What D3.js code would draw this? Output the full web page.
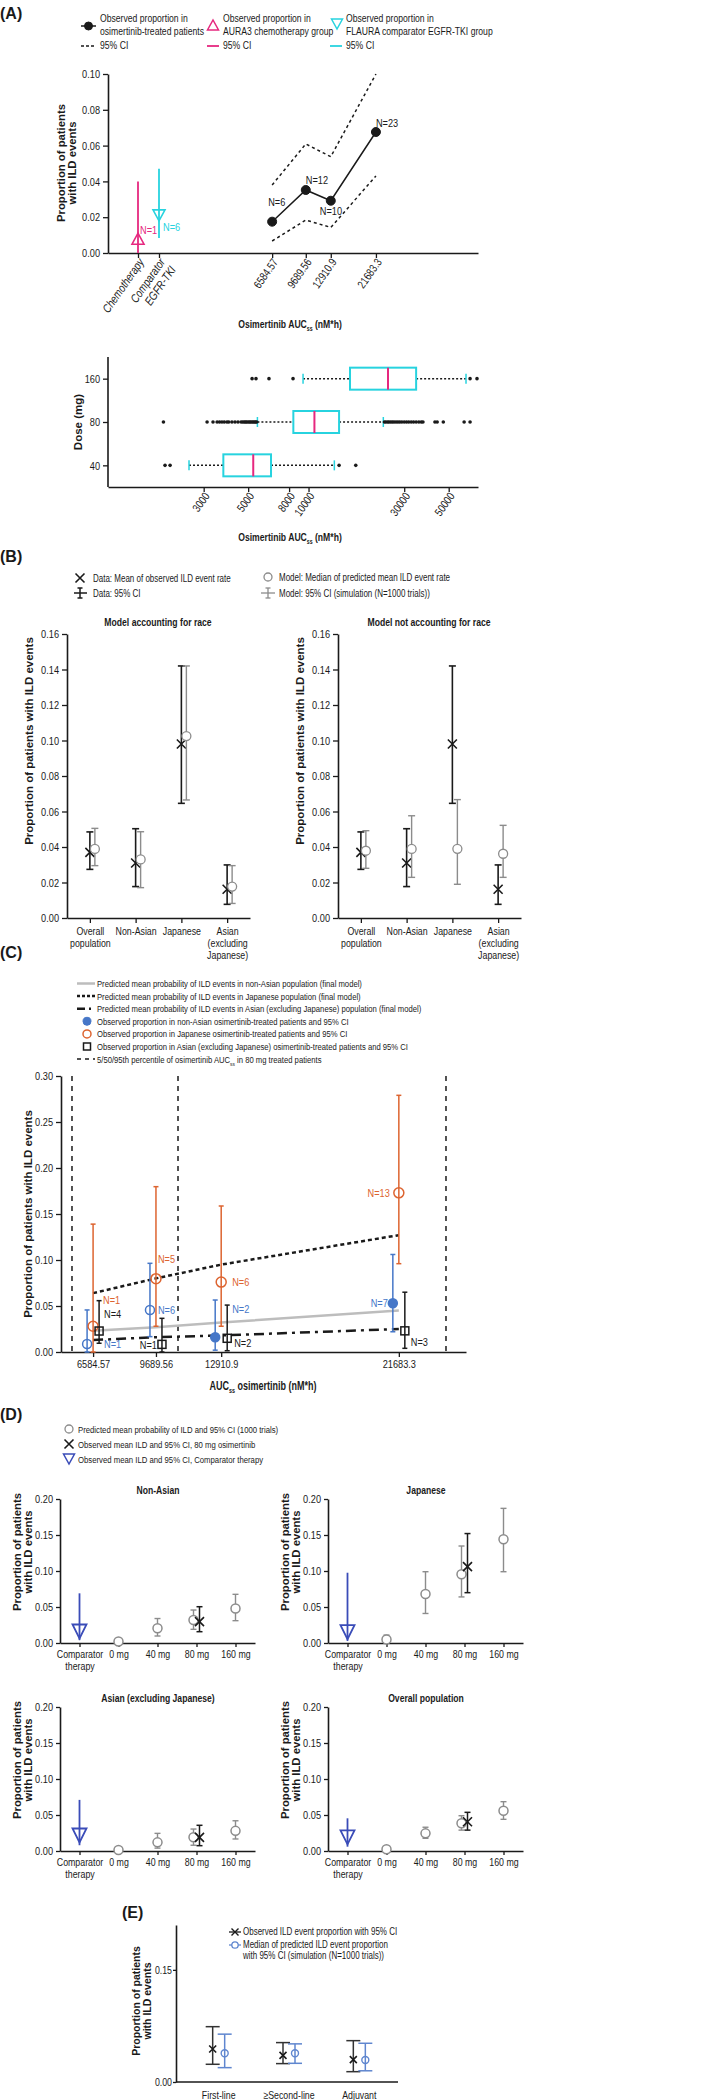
<!DOCTYPE html>
<html><head><meta charset="utf-8">
<script src="https://cdn.jsdelivr.net/npm/d3@7"></script>
<style>body{margin:0;background:#fff}</style>
</head><body><script>
// ---------------- DATA ----------------
// Panel A (top)
const aAuc = [6584.57, 9689.56, 12910.9, 21683.3];
const aObs = [0.0175, 0.0352, 0.0292, 0.0676];
const aLo  = [0.0067, 0.0184, 0.0143, 0.043];
const aHi  = [0.038, 0.0609, 0.0538, 0.100];
const aN   = ["N=6", "N=12", "N=10", "N=23"];
const aCompCats = ["Chemotherapy", "Comparator EGFR-TKI"];
const aCompVal = [0.008, 0.021];
const aCompLo  = [0.0, 0.0084];
const aCompHi  = [0.040, 0.047];
const aCompN   = ["N=1", "N=6"];
const aYTicks  = [0, 0.02, 0.04, 0.06, 0.08, 0.10];
// Panel A (box plot)
const boxDose = ["160", "80", "40"];
const boxQ1  = [16100, 8400, 3760];
const boxMed = [24900, 10700, 5300];
const boxQ3  = [34400, 14200, 6500];
const boxWLo = [9390, 5560, 2535];
const boxWHi = [61000, 23600, 13450];
const boxOut160 = [5230, 5470, 6350, 8370, 63900, 69200];
const boxOut80 = [1890, 3120, 3340, 3500, 3600, 3700, 3800, 3920, 4000, 4150, 4300, 4450, 4610, 4700, 4780, 4850, 4920, 5000, 5080, 5150, 5230, 5300, 5380, 5450, 5520,
  23900, 24300, 24800, 25200, 25700, 26200, 26700, 27300, 27900, 28500, 29200, 30000, 30800, 31600, 32500, 33400, 34400, 35500, 36500, 37200, 42700, 43800, 47000, 59700, 63900];
const boxOut40 = [1925, 2040, 14200, 17200];
const boxXTicks = [3000, 5000, 8000, 10000, 30000, 50000];
// Panel B
const bCats = ["Overall population", "Non-Asian", "Japanese", "Asian (excluding Japanese)"];
const bCatLines = [["Overall", "population"], ["Non-Asian"], ["Japanese"], ["Asian", "(excluding", "Japanese)"]];
const bObs   = [0.037, 0.031, 0.098, 0.0162];
const bObsLo = [0.0274, 0.0177, 0.0646, 0.0077];
const bObsHi = [0.0485, 0.0503, 0.142, 0.0299];
const bRace   = [0.0389, 0.033, 0.1025, 0.0177];
const bRaceLo = [0.0295, 0.0171, 0.0665, 0.0082];
const bRaceHi = [0.0505, 0.0486, 0.142, 0.0295];
const bNoRace   = [0.0379, 0.0389, 0.039, 0.0362];
const bNoRaceLo = [0.028, 0.0229, 0.019, 0.0229];
const bNoRaceHi = [0.0492, 0.0576, 0.0667, 0.0522];
const bYTicks = [0, 0.02, 0.04, 0.06, 0.08, 0.10, 0.12, 0.14, 0.16];
// Panel C
const cAuc = [6584.57, 9689.56, 12910.9, 21683.3];
const cPctl = [5543, 10778, 24012];
const cPredNonAsian = [0.023, 0.027, 0.032, 0.045];
const cPredJapanese = [0.064, 0.080, 0.095, 0.127];
const cPredAsian    = [0.013, 0.016, 0.018, 0.025];
const cNonAsian   = [0.0087, 0.0457, 0.016, 0.053];
const cNonAsianLo = [0.0, 0.0167, 0.002, 0.022];
const cNonAsianHi = [0.0457, 0.0964, 0.0565, 0.106];
const cNonAsianN  = ["N=1", "N=6", "N=2", "N=7"];
const cJap   = [0.028, 0.0797, 0.076, 0.173];
const cJapLo = [0.0, 0.028, 0.028, 0.096];
const cJapHi = [0.139, 0.1797, 0.1587, 0.279];
const cJapN  = ["N=1", "N=5", "N=6", "N=13"];
const cAsian   = [0.0228, 0.0083, 0.0149, 0.023];
const cAsianLo = [0.0095, 0.0, 0.0014, 0.004];
const cAsianHi = [0.0558, 0.0366, 0.051, 0.065];
const cAsianN  = ["N=4", "N=1", "N=2", "N=3"];
const cYTicks = [0, 0.05, 0.10, 0.15, 0.20, 0.25, 0.30];
// Panel D
const dCats = ["Comparator therapy", "0 mg", "40 mg", "80 mg", "160 mg"];
const dPanels = ["Non-Asian", "Japanese", "Asian (excluding Japanese)", "Overall population"];
const dPredDoses = ["0 mg", "40 mg", "80 mg", "160 mg"];
const dPred   = [[0.002, 0.0204, 0.032, 0.048], [0.005, 0.068, 0.0954, 0.144], [0.0014, 0.012, 0.019, 0.028], [0.0024, 0.0245, 0.0385, 0.056]];
const dPredLo = [[0.0, 0.0097, 0.019, 0.031], [0.0, 0.041, 0.064, 0.099], [0.0, 0.004, 0.008, 0.0167], [0.0, 0.0176, 0.029, 0.044]];
const dPredHi = [[0.004, 0.034, 0.0458, 0.0676], [0.011, 0.099, 0.1347, 0.187], [0.003, 0.0245, 0.0305, 0.042], [0.005, 0.033, 0.049, 0.0685]];
const dObs80   = [0.0296, 0.106, 0.019, 0.0407];
const dObs80Lo = [0.0157, 0.0699, 0.0074, 0.029];
const dObs80Hi = [0.0504, 0.152, 0.0357, 0.0537];
const dComp   = [0.016, 0.015, 0.0215, 0.019];
const dCompLo = [0.004, 0.003, 0.008, 0.006];
const dCompHi = [0.069, 0.0976, 0.071, 0.0454];
const dYTicks = [0, 0.05, 0.10, 0.15, 0.20];
// Panel E
const eCats = ["First-line", "\u2265Second-line", "Adjuvant"];
const eObs   = [0.0442, 0.0357, 0.030];
const eObsLo = [0.0237, 0.0246, 0.0138];
const eObsHi = [0.074, 0.0527, 0.0553];
const ePred   = [0.0384, 0.0384, 0.0295];
const ePredLo = [0.0192, 0.025, 0.015];
const ePredHi = [0.064, 0.051, 0.0518];
const eYTicks = [0, 0.15];

// ---------------- HELPERS ----------------
const NF = "'Liberation Sans Narrow','Arial Narrow','Liberation Sans',Arial,sans-serif";
const WF = "'Liberation Sans',Arial,sans-serif";
const INK = "#1a1a1a";
const PINK = "#e6287f", CYAN = "#27d3df", BLUE = "#4677c8", ORANGE = "#dd6430", GRAY = "#8c8c8c", DBLUE = "#3a4cb8", EBLUE = "#5f86cf";
const TICK = 11.5, TITLE = 11.5, ROT = -55;

const svg = d3.select("body").append("svg").attr("width", 709).attr("height", 2100).style("background", "#fff");

function txt(g, x, y, s, o = {}) {
  const t = g.append("text").attr("x", x).attr("y", y).text(s)
    .attr("font-size", o.size || 11).attr("font-family", o.family || NF)
    .attr("fill", o.color || INK).attr("text-anchor", o.anchor || "start");
  if (o.bold) t.attr("font-weight", "bold");
  if (o.rotate != null) t.attr("transform", `rotate(${o.rotate},${x},${y})`);
  return t;
}
function ln(g, x1, y1, x2, y2, color, w, dash) {
  const l = g.append("line").attr("x1", x1).attr("y1", y1).attr("x2", x2).attr("y2", y2)
    .attr("stroke", color).attr("stroke-width", w);
  if (dash) l.attr("stroke-dasharray", dash);
  return l;
}
function ebar(g, x, ya, yb, hw, color, w) {
  ln(g, x, ya, x, yb, color, w);
  if (hw > 0) { ln(g, x - hw, ya, x + hw, ya, color, w); ln(g, x - hw, yb, x + hw, yb, color, w); }
}
function xmark(g, x, y, s, color, w) {
  g.append("path").attr("d", `M${x - s},${y - s}L${x + s},${y + s}M${x - s},${y + s}L${x + s},${y - s}`)
    .attr("stroke", color).attr("stroke-width", w).attr("fill", "none");
}
function circ(g, x, y, r, stroke, fill, w) {
  return g.append("circle").attr("cx", x).attr("cy", y).attr("r", r).attr("stroke", stroke).attr("fill", fill).attr("stroke-width", w);
}
function triUp(g, x, y, hw, h, color, w) {
  g.append("path").attr("d", `M${x - hw},${y + h / 2}L${x + hw},${y + h / 2}L${x},${y - h / 2}Z`).attr("fill", "none").attr("stroke", color).attr("stroke-width", w);
}
function triDown(g, x, y, hw, h, color, w) {
  g.append("path").attr("d", `M${x - hw},${y - h / 2}L${x + hw},${y - h / 2}L${x},${y + h / 2}Z`).attr("fill", "none").attr("stroke", color).attr("stroke-width", w);
}
function square(g, x, y, s, color, w) {
  g.append("rect").attr("x", x - s / 2).attr("y", y - s / 2).attr("width", s).attr("height", s).attr("fill", "none").attr("stroke", color).attr("stroke-width", w);
}
function styleAxis(sel, fs) {
  sel.selectAll("text").attr("font-family", NF).attr("font-size", fs).attr("fill", INK);
  sel.select(".domain").attr("stroke", INK).attr("stroke-width", 1.6);
  sel.selectAll(".tick line").attr("stroke", INK).attr("stroke-width", 1.3);
}
function yTitle(g, x, yc, lines, size, lh) {
  lines.forEach((s, i) => txt(g, x + i * lh, yc, s, { size: size, bold: true, family: WF, anchor: "middle", rotate: -90 }));
}
function subTitle(g, x, y, pre, sub, post, size, anchor) {
  const t = g.append("text").attr("x", x).attr("y", y).attr("font-family", NF).attr("font-size", size)
    .attr("font-weight", "bold").attr("fill", INK).attr("text-anchor", anchor || "middle");
  t.append("tspan").text(pre);
  t.append("tspan").text(sub).attr("font-size", size * 0.6).attr("dy", 3);
  t.append("tspan").text(post).attr("dy", -3);
  return t;
}
const fmt2 = d3.format(".2f");

// ---------------- PANEL A ----------------
const gA = svg.append("g");
txt(gA, 0, 19, "(A)", { size: 16, bold: true, family: WF });
const LA = 10.8;
ln(gA, 81, 26, 96, 26, INK, 1.5); circ(gA, 88.5, 26, 4, INK, INK, 1);
txt(gA, 100, 22, "Observed proportion in", { size: LA });
txt(gA, 100, 35, "osimertinib-treated patients", { size: LA });
ln(gA, 81, 46, 96, 46, INK, 1.5, "3,2"); txt(gA, 100, 49.5, "95% CI", { size: LA });
triUp(gA, 213, 25, 5.5, 10, PINK, 1.5);
txt(gA, 223, 22, "Observed proportion in", { size: LA });
txt(gA, 223, 35, "AURA3 chemotherapy group", { size: LA });
ln(gA, 207, 46, 219, 46, PINK, 1.8); txt(gA, 223, 49.5, "95% CI", { size: LA });
triDown(gA, 337, 24, 5.5, 10, CYAN, 1.5);
txt(gA, 346, 22, "Observed proportion in", { size: LA });
txt(gA, 346, 35, "FLAURA comparator EGFR-TKI group", { size: LA });
ln(gA, 330, 46, 342, 46, CYAN, 1.8); txt(gA, 346, 49.5, "95% CI", { size: LA });

const yA = d3.scaleLinear().domain([0, 0.1]).range([253, 74]);
const xA = d3.scaleLog().domain([1000, 70000]).range([108, 478]);
const catA = d3.scalePoint().domain(aCompCats).range([138, 159]);

const axAY = gA.append("g").attr("transform", "translate(108,0)")
  .call(d3.axisLeft(yA).tickValues(aYTicks).tickFormat(fmt2).tickSize(5).tickSizeOuter(0));
styleAxis(axAY, TICK);
const axAX = gA.append("g").attr("transform", "translate(0,253)")
  .call(d3.axisBottom(xA).tickValues(aAuc).tickFormat(d => String(d)).tickSize(5).tickSizeOuter(0));
styleAxis(axAX, TICK);
axAX.selectAll(".tick text").attr("text-anchor", "end").attr("x", -4).attr("y", 6).attr("dy", "0.35em").attr("transform", `rotate(${ROT})`);
const axAC = gA.append("g").attr("transform", "translate(0,253)")
  .call(d3.axisBottom(catA).tickSize(5).tickSizeOuter(0));
styleAxis(axAC, 12);
axAC.select(".domain").remove();
axAC.selectAll(".tick text").each(function (d) {
  const t = d3.select(this); t.text(null);
  const parts = d === "Comparator EGFR-TKI" ? ["Comparator", "EGFR-TKI"] : [d];
  parts.forEach((p, i) => t.append("tspan").attr("x", -4).attr("dy", i === 0 ? "0.35em" : "1.1em").text(p));
}).attr("text-anchor", "end").attr("x", -4).attr("y", 6).attr("transform", `rotate(${ROT})`).attr("font-style", "italic");

const lineA = (vals) => d3.line().x((d, i) => xA(aAuc[i])).y(d => yA(d))(vals);
gA.append("path").attr("d", lineA(aHi)).attr("fill", "none").attr("stroke", INK).attr("stroke-width", 1.5).attr("stroke-dasharray", "3,3");
gA.append("path").attr("d", lineA(aLo)).attr("fill", "none").attr("stroke", INK).attr("stroke-width", 1.5).attr("stroke-dasharray", "3,3");
gA.append("path").attr("d", lineA(aObs)).attr("fill", "none").attr("stroke", INK).attr("stroke-width", 1.5);
const aLab = [[-4, -16], [0, -6], [-11, 14], [0, -5]];
aObs.forEach((v, i) => {
  circ(gA, xA(aAuc[i]), yA(v), 4.5, INK, INK, 1);
  txt(gA, xA(aAuc[i]) + aLab[i][0], yA(v) + aLab[i][1], aN[i], { size: 11.5 });
});
const compCol = [PINK, CYAN];
aCompCats.forEach((c, i) => {
  const x = catA(c);
  ln(gA, x, yA(aCompLo[i]), x, yA(aCompHi[i]), compCol[i], 1.8);
  if (i === 0) triUp(gA, x, yA(aCompVal[i]), 6, 11, compCol[i], 1.6);
  else triDown(gA, x, yA(aCompVal[i]), 6, 11, compCol[i], 1.6);
});
txt(gA, catA(aCompCats[0]) + 2, yA(aCompVal[0]) - 5, aCompN[0], { size: 11.5, color: PINK });
txt(gA, catA(aCompCats[1]) + 4, yA(aCompVal[1]) + 16, aCompN[1], { size: 11.5, color: CYAN });
subTitle(gA, 290, 328, "Osimertinib AUC", "ss", " (nM*h)", TITLE);
yTitle(gA, 65, 163, ["Proportion  of patients", "with ILD events"], 11.3, 11);

// ---------------- PANEL A (box) ----------------
const yBx = d3.scalePoint().domain(boxDose).range([357, 487]).padding(0.5);
const axBY = gA.append("g").attr("transform", "translate(108,0)")
  .call(d3.axisLeft(yBx).tickSize(5).tickSizeOuter(0));
styleAxis(axBY, TICK);
axBY.select(".domain").attr("d", "M0,357V487");
const axBX = gA.append("g").attr("transform", "translate(0,487)")
  .call(d3.axisBottom(xA).tickValues(boxXTicks).tickFormat(d => String(d)).tickSize(5).tickSizeOuter(0));
styleAxis(axBX, TICK);
axBX.selectAll(".tick text").attr("text-anchor", "end").attr("x", -4).attr("y", 6).attr("dy", "0.35em").attr("transform", `rotate(${ROT})`);
const outs = [boxOut160, boxOut80, boxOut40];
boxDose.forEach((d, i) => {
  const y = yBx(d);
  ln(gA, xA(boxWLo[i]), y, xA(boxQ1[i]), y, INK, 1.5, "2,2");
  ln(gA, xA(boxQ3[i]), y, xA(boxWHi[i]), y, INK, 1.5, "2,2");
  ln(gA, xA(boxWLo[i]), y - 5, xA(boxWLo[i]), y + 5, CYAN, 1.5);
  ln(gA, xA(boxWHi[i]), y - 5, xA(boxWHi[i]), y + 5, CYAN, 1.5);
  gA.append("rect").attr("x", xA(boxQ1[i])).attr("y", y - 11).attr("width", xA(boxQ3[i]) - xA(boxQ1[i])).attr("height", 22)
    .attr("fill", "#fff").attr("stroke", CYAN).attr("stroke-width", 2);
  ln(gA, xA(boxMed[i]), y - 11, xA(boxMed[i]), y + 11, PINK, 2);
  outs[i].forEach(v => circ(gA, xA(v), y, 1.8, INK, INK, 0));
});
subTitle(gA, 290, 541, "Osimertinib AUC", "ss", " (nM*h)", TITLE);
yTitle(gA, 82, 422, ["Dose (mg)"], 11.5, 13);

// ---------------- PANEL B ----------------
const gB = svg.append("g");
const LB = 10;
txt(gB, 0, 562, "(B)", { size: 16, bold: true, family: WF });
xmark(gB, 80, 578, 4.5, INK, 1.6);
txt(gB, 93, 582, "Data: Mean of observed ILD event rate", { size: LB });
ln(gB, 74, 593, 87, 593, INK, 1.5); ebar(gB, 80, 588, 598, 2.5, INK, 1.5);
txt(gB, 93, 597, "Data: 95% CI", { size: LB });
circ(gB, 268, 577, 4, GRAY, "none", 1.3);
txt(gB, 279, 581, "Model: Median of predicted mean ILD event rate", { size: LB });
ln(gB, 261, 593, 275, 593, GRAY, 1.3); ebar(gB, 268, 588, 598, 2.5, GRAY, 1.3);
txt(gB, 279, 597, "Model: 95% CI (simulation (N=1000 trials))", { size: LB });

const yBp = d3.scaleLinear().domain([0, 0.16]).range([918, 634]);
function drawB(x0, title, mod, modLo, modHi) {
  const g = gB.append("g");
  const xs = d3.scalePoint().domain(bCats).range([x0, x0 + 183]).padding(0.5);
  const ay = g.append("g").attr("transform", `translate(${x0},0)`)
    .call(d3.axisLeft(yBp).tickValues(bYTicks).tickFormat(fmt2).tickSize(5).tickSizeOuter(0));
  styleAxis(ay, TICK);
  const ax = g.append("g").attr("transform", "translate(0,918)")
    .call(d3.axisBottom(xs).tickSize(5).tickSizeOuter(0));
  styleAxis(ax, 11);
  ax.selectAll(".tick text").each(function (d, i) {
    const t = d3.select(this); t.text(null).attr("y", 8);
    bCatLines[i].forEach((p, k) => t.append("tspan").attr("x", 0).attr("dy", k === 0 ? "0.85em" : "1.08em").text(p));
  });
  txt(g, x0 + 91, 626, title, { size: TITLE, bold: true, anchor: "middle" });
  bCats.forEach((c, i) => {
    const x = xs(c);
    ebar(g, x, yBp(bObsLo[i]), yBp(bObsHi[i]), 3.5, INK, 1.6);
    xmark(g, x, yBp(bObs[i]), 4.5, INK, 1.6);
    ebar(g, x + 5, yBp(modLo[i]), yBp(modHi[i]), 3.5, GRAY, 1.4);
    circ(g, x + 5, yBp(mod[i]), 4.5, GRAY, "#fff", 1.3);
  });
  g.append("text").attr("x", x0 - 34).attr("y", 741).attr("transform", `rotate(-90,${x0 - 34},741)`)
    .attr("text-anchor", "middle").attr("font-family", WF).attr("font-weight", "bold").attr("font-size", 11.5).attr("fill", INK)
    .text("Proportion of patients with ILD events");
}
drawB(67, "Model accounting for race", bRace, bRaceLo, bRaceHi);
drawB(338, "Model not accounting for race", bNoRace, bNoRaceLo, bNoRaceHi);

// ---------------- PANEL C ----------------
const gC = svg.append("g");
const LC = 9.6;
txt(gC, 0, 958, "(C)", { size: 16, bold: true, family: WF });
const cLeg = [
  "Predicted mean probability of ILD events in non-Asian population (final model)",
  "Predicted mean probability of ILD events in Japanese population (final model)",
  "Predicted mean probability of ILD events in Asian (excluding Japanese) population (final model)",
  "Observed proportion in non-Asian osimertinib-treated patients and 95% CI",
  "Observed proportion in Japanese osimertinib-treated patients and 95% CI",
  "Observed proportion in Asian (excluding Japanese) osimertinib-treated patients and 95% CI",
  "5/50/95th percentile of osimertinib AUC"];
function legSub(g, x, y, s) {
  const t = g.append("text").attr("x", x).attr("y", y).attr("font-family", NF).attr("font-size", LC).attr("fill", INK);
  t.append("tspan").text(s);
  t.append("tspan").text("ss").attr("font-size", 6).attr("dy", 3);
  t.append("tspan").text(" in 80 mg treated patients").attr("dy", -3);
}
cLeg.forEach((s, i) => {
  const y = 987 + i * 12.6;
  if (i < 6) txt(gC, 97, y, s, { size: LC });
  else legSub(gC, 97, y, s);
  const ym = y - 3.5;
  if (i === 0) ln(gC, 77, ym, 95, ym, "#bdbdbd", 2.5);
  if (i === 1) ln(gC, 77, ym, 95, ym, INK, 2.5, "3,2");
  if (i === 2) ln(gC, 77, ym, 95, ym, INK, 2.5, "8,4,2,4");
  if (i === 3) circ(gC, 87, ym, 4, BLUE, BLUE, 1);
  if (i === 4) circ(gC, 87, ym, 4, ORANGE, "none", 1.5);
  if (i === 5) square(gC, 87, ym, 7, INK, 1.5);
  if (i === 6) ln(gC, 77, ym, 95, ym, INK, 1.5, "4,4");
});
const yC = d3.scaleLinear().domain([0, 0.3]).range([1352, 1076]);
const xC = d3.scaleLinear().domain([5000, 25000]).range([61, 466]);
const axCY = gC.append("g").attr("transform", "translate(61,0)")
  .call(d3.axisLeft(yC).tickValues(cYTicks).tickFormat(fmt2).tickSize(5).tickSizeOuter(0));
styleAxis(axCY, TICK);
const axCX = gC.append("g").attr("transform", "translate(0,1352)")
  .call(d3.axisBottom(xC).tickValues(cAuc).tickFormat(d => String(d)).tickSize(5).tickSizeOuter(0));
styleAxis(axCX, TICK);
cPctl.forEach(v => ln(gC, xC(v), yC(0.3), xC(v), yC(0), INK, 1.5, "5,5"));
const lineC = vals => d3.line().x((d, i) => xC(cAuc[i])).y(d => yC(d))(vals);
gC.append("path").attr("d", lineC(cPredNonAsian)).attr("fill", "none").attr("stroke", "#bdbdbd").attr("stroke-width", 2.5);
gC.append("path").attr("d", lineC(cPredJapanese)).attr("fill", "none").attr("stroke", INK).attr("stroke-width", 2.5).attr("stroke-dasharray", "4,3");
gC.append("path").attr("d", lineC(cPredAsian)).attr("fill", "none").attr("stroke", INK).attr("stroke-width", 2.5).attr("stroke-dasharray", "10,5,3,5");
const lbB = [[17, 4, "start"], [8, 4, "start"], [17, -24, "start"], [-5, 4, "end"]];
const lbO = [[10, -22, "start"], [2, -16, "start"], [11, 4, "start"], [-9, 4, "end"]];
const lbK = [[5, -13, "start"], [-5, 5, "end"], [7, 9, "start"], [6, 15, "start"]];
cAuc.forEach((a, i) => {
  const xb = xC(a) - 6, xo = xC(a), xk = xC(a) + 6;
  ebar(gC, xb, yC(cNonAsianLo[i]), yC(cNonAsianHi[i]), 2.5, BLUE, 1.5);
  ebar(gC, xo, yC(cJapLo[i]), yC(cJapHi[i]), 2.5, ORANGE, 1.5);
  ebar(gC, xk, yC(cAsianLo[i]), yC(cAsianHi[i]), 2.5, INK, 1.5);
  circ(gC, xb, yC(cNonAsian[i]), 4.5, BLUE, i >= 2 ? BLUE : "none", 1.5);
  circ(gC, xo, yC(cJap[i]), 5, ORANGE, "none", 1.5);
  square(gC, xk, yC(cAsian[i]), 8, INK, 1.5);
  txt(gC, xb + lbB[i][0], yC(cNonAsian[i]) + lbB[i][1], cNonAsianN[i], { size: 11.5, color: BLUE, anchor: lbB[i][2] });
  txt(gC, xo + lbO[i][0], yC(cJap[i]) + lbO[i][1], cJapN[i], { size: 11.5, color: ORANGE, anchor: lbO[i][2] });
  txt(gC, xk + lbK[i][0], yC(cAsian[i]) + lbK[i][1], cAsianN[i], { size: 11.5, color: INK, anchor: lbK[i][2] });
});
subTitle(gC, 263, 1390, "AUC", "ss", " osimertinib (nM*h)", 12);
gC.append("text").attr("x", 32).attr("y", 1214).attr("transform", "rotate(-90,32,1214)")
  .attr("text-anchor", "middle").attr("font-family", WF).attr("font-weight", "bold").attr("font-size", 11.5).attr("fill", INK)
  .text("Proportion of patients with ILD events");

// ---------------- PANEL D ----------------
const gD = svg.append("g");
const LD = 9.7;
txt(gD, 0, 1420, "(D)", { size: 16, bold: true, family: WF });
circ(gD, 69, 1429, 4, GRAY, "none", 1.3);
txt(gD, 78, 1433, "Predicted mean probability of ILD and 95% CI (1000 trials)", { size: LD });
xmark(gD, 69, 1444, 4.5, INK, 1.6);
txt(gD, 78, 1448, "Observed mean ILD and 95% CI, 80 mg osimertinib", { size: LD });
triDown(gD, 69, 1459, 5.5, 10, DBLUE, 1.5);
txt(gD, 78, 1463, "Observed mean ILD and 95% CI, Comparator therapy", { size: LD });

function drawD(k, x0, y0) {
  const g = gD.append("g");
  const ys = d3.scaleLinear().domain([0, 0.2]).range([y0, y0 - 144]);
  const xs = d3.scalePoint().domain(dCats).range([x0, x0 + 195]).padding(0.5);
  const ay = g.append("g").attr("transform", `translate(${x0},0)`)
    .call(d3.axisLeft(ys).tickValues(dYTicks).tickFormat(fmt2).tickSize(4).tickSizeOuter(0));
  styleAxis(ay, TICK);
  const ax = g.append("g").attr("transform", `translate(0,${y0})`)
    .call(d3.axisBottom(xs).tickSize(4).tickSizeOuter(0));
  styleAxis(ax, 11);
  ax.selectAll(".tick text").each(function (d) {
    const t = d3.select(this); t.text(null).attr("y", 6);
    const parts = d === "Comparator therapy" ? ["Comparator", "therapy"] : [d];
    parts.forEach((p, j) => t.append("tspan").attr("x", 0).attr("dy", j === 0 ? "0.85em" : "1.1em").text(p));
  });
  txt(g, x0 + 98, y0 - 149, dPanels[k], { size: TITLE, bold: true, anchor: "middle" });
  const xc = xs(dCats[0]);
  ln(g, xc, ys(dCompLo[k]), xc, ys(dCompHi[k]), DBLUE, 1.8);
  triDown(g, xc, ys(dComp[k]), 7, 14, DBLUE, 1.8);
  dPredDoses.forEach((d, j) => {
    const x = xs(d) + (d === "80 mg" ? -3 : 0);
    ebar(g, x, ys(dPredLo[k][j]), ys(dPredHi[k][j]), 3, GRAY, 1.4);
    circ(g, x, ys(dPred[k][j]), 4.5, GRAY, "#fff", 1.5);
  });
  const xo = xs("80 mg") + 3;
  ebar(g, xo, ys(dObs80Lo[k]), ys(dObs80Hi[k]), 3, INK, 1.5);
  xmark(g, xo, ys(dObs80[k]), 4.5, INK, 1.6);
  yTitle(g, x0 - 39, y0 - 91, ["Proportion of patients", "with ILD events"], 11.3, 11);
}
drawD(0, 60, 1643);
drawD(1, 328, 1643);
drawD(2, 60, 1851);
drawD(3, 328, 1851);

// ---------------- PANEL E ----------------
const gE = svg.append("g");
const LE = 10;
txt(gE, 122, 1918, "(E)", { size: 16, bold: true, family: WF });
ln(gE, 229, 1932, 241, 1932, INK, 1.3); xmark(gE, 235, 1932, 3.5, INK, 1.4);
txt(gE, 243, 1935.5, "Observed ILD event proportion with 95% CI", { size: LE });
ln(gE, 229, 1945, 241, 1945, EBLUE, 1.3); circ(gE, 235, 1945, 3.2, EBLUE, "#fff", 1.3);
txt(gE, 243, 1948, "Median of predicted ILD event proportion", { size: LE });
txt(gE, 243, 1959.5, "with 95% CI (simulation (N=1000 trials))", { size: LE });
const yE = d3.scaleLinear().domain([0, 0.21]).range([2082, 1925]);
const xE = d3.scalePoint().domain(eCats).range([180, 398]).padding(0.55);
const axEY = gE.append("g").attr("transform", "translate(176,0)")
  .call(d3.axisLeft(yE).tickValues(eYTicks).tickFormat(fmt2).tickSize(3).tickSizeOuter(0));
styleAxis(axEY, 11);
axEY.selectAll(".tick text").attr("x", -4);
ln(gE, 176, 2082, 398, 2082, INK, 1.6);
eCats.forEach((c, i) => {
  const x = xE(c);
  txt(gE, x, 2099, c, { size: 11, anchor: "middle" });
  ebar(gE, x - 6, yE(eObsLo[i]), yE(eObsHi[i]), 7, "#333", 1.5);
  xmark(gE, x - 6, yE(eObs[i]), 3.5, INK, 1.6);
  ebar(gE, x + 6, yE(ePredLo[i]), yE(ePredHi[i]), 7, EBLUE, 1.5);
  circ(gE, x + 6, yE(ePred[i]), 3.5, EBLUE, "none", 1.4);
});
yTitle(gE, 140, 2001, ["Proportion of patients", "with ILD events"], 10.5, 11);

// ---------------- narrow-font emulation ----------------
svg.selectAll("text").each(function () {
  const ff = this.getAttribute("font-family") || "";
  if (!ff.includes("Narrow")) return;
  const k = this.getAttribute("font-weight") === "bold" ? 0.75 : 0.8;
  const ax = +this.getAttribute("x") || 0;
  const t = this.getAttribute("transform") || "";
  this.setAttribute("transform", `${t} translate(${ax},0) scale(${k},1) translate(${-ax},0)`);
});
</script></body></html>
